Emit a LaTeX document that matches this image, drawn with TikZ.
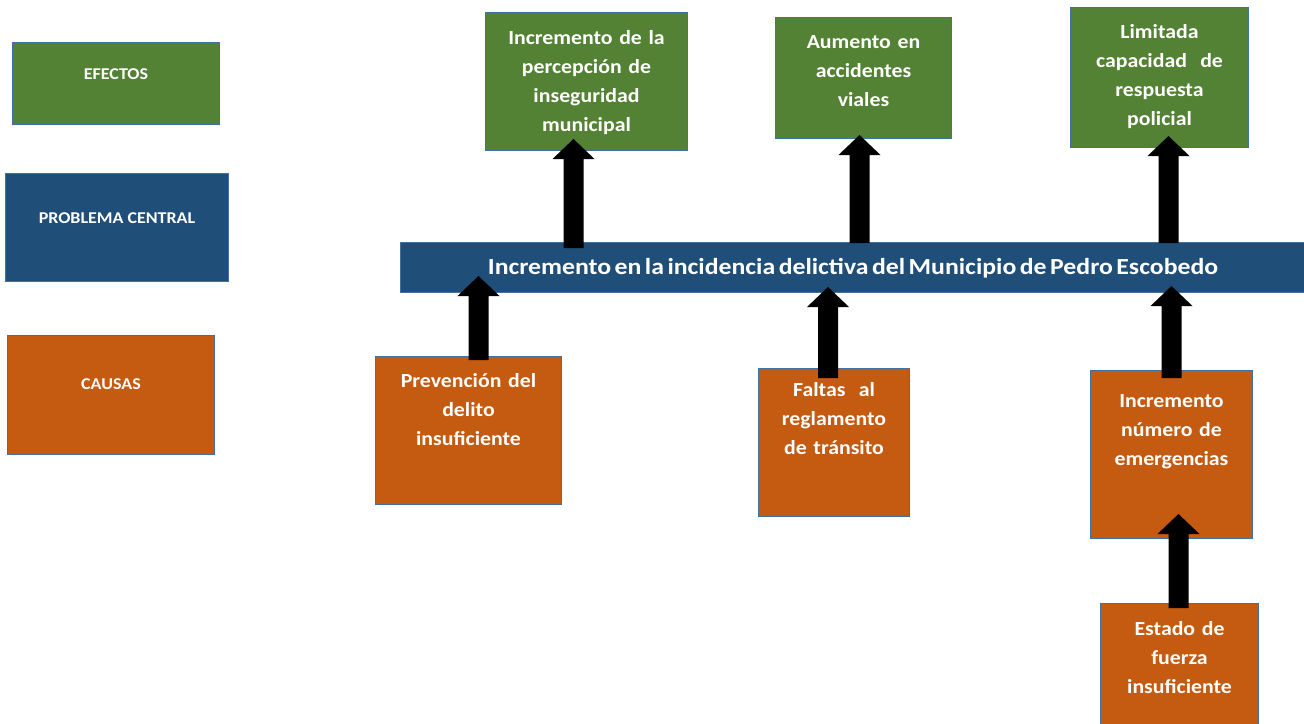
\documentclass[tikz,border=0pt]{standalone}
\usepackage{fontspec}
\setmainfont{Carlito}
\newfontfamily\wfont[FakeStretch=1.09]{Carlito}
\newfontfamily\bandfont[FakeStretch=1.12,WordSpace=0.6]{Carlito}
\usetikzlibrary{calc}
\definecolor{efg}{HTML}{548235}
\definecolor{pcb}{HTML}{1F4E79}
\definecolor{cao}{HTML}{C55A11}
\definecolor{bord}{HTML}{41719C}
\begin{document}
\begin{tikzpicture}[x=1pt,y=1pt,
  boxst/.style={draw=bord, line width=1pt, rectangle, inner sep=0pt, anchor=north west},
  efbox/.style={boxst, fill=efg},
  pcbox/.style={boxst, fill=pcb},
  cabox/.style={boxst, fill=cao},
  lbl/.style={text=white, font=\wfont\bfseries\fontsize{20}{29}\selectfont, align=center, inner sep=0pt, anchor=base},
  leg/.style={text=white, font=\wfont\bfseries\fontsize{16.5}{18}\selectfont, inner sep=0pt, anchor=base},
  blockarrow/.style={to path={
    let \p1=(\tikztostart), \p2=(\tikztotarget) in
    (\x1-10pt,\y1) -- (\x1-10pt,\y2-20pt) -- (\x1-21pt,\y2-20pt) -- (\x1,\y2)
    -- (\x1+21pt,\y2-20pt) -- (\x1+10pt,\y2-20pt) -- (\x1+10pt,\y1) -- cycle}},
  arr/.style={fill=black}
]
\useasboundingbox (0,0) rectangle (1304,-723);

% legend
\node[efbox, minimum width=207pt, minimum height=82pt] (lef) at (12,-42) {};
\node[leg] (lefT) at ($(lef.north)+(0,-37)$) {EFECTOS};
\node[pcbox, minimum width=223pt, minimum height=108pt] (lpc) at (5,-173) {};
\node[leg] (lpcT) at ($(lpc.north)+(0,-50)$) {PROBLEMA CENTRAL};
\node[cabox, minimum width=207pt, minimum height=119pt] (lca) at (7,-335) {};
\node[leg] (lcaT) at ($(lca.north)+(0,-54)$) {CAUSAS};

% central band
\node[pcbox, minimum width=920pt, minimum height=50pt] (band) at (400,-242) {};
\node[text=white, font=\bandfont\bfseries\fontsize{23}{27}\selectfont, inner sep=0pt, anchor=base] (bandT) at (853,-274)
  {Incremento en la incidencia delictiva del Municipio de Pedro Escobedo};

% effects
\node[efbox, minimum width=202pt, minimum height=138pt] (e1) at (485,-12) {};
\node[lbl, text width=200pt] (e1T) at ($(e1.north)+(0,-32)$) {Incremento de la\\percepción de\\inseguridad\\municipal};
\node[efbox, minimum width=176pt, minimum height=121pt] (e2) at (775,-17) {};
\node[lbl, text width=170pt] (e2T) at ($(e2.north)+(0,-31)$) {Aumento en\\accidentes\\viales};
\node[efbox, minimum width=178pt, minimum height=140pt] (e3) at (1070,-7) {};
\node[lbl, text width=176pt] (e3T) at ($(e3.north)+(0,-31)$) {Limitada\\capacidad~ de\\respuesta\\policial};

% causes
\node[cabox, minimum width=186pt, minimum height=148pt] (c1) at (375,-356) {};
\node[lbl, text width=184pt] (c1T) at ($(c1.north)+(0,-31)$) {Prevención del\\delito\\insuficiente};
\node[cabox, minimum width=151pt, minimum height=148pt] (c2) at (758,-368) {};
\node[lbl, text width=150pt] (c2T) at ($(c2.north)+(0,-28)$) {Faltas~ al\\reglamento\\de tránsito};
\node[cabox, minimum width=162pt, minimum height=168pt] (c3) at (1090,-370) {};
\node[lbl, text width=160pt] (c3T) at ($(c3.north)+(0,-37)$) {Incremento\\número de\\emergencias};
\node[cabox, minimum width=158pt, minimum height=130pt] (c4) at (1100,-603) {};
\node[lbl, text width=156pt] (c4T) at ($(c4.north)+(0,-32)$) {Estado de\\fuerza\\insuficiente};

% arrows
\fill[arr] ($(e1.south |- band.north)+(-13,-6)$) to[blockarrow] ($(e1.south)+(-13,12)$);
\fill[arr] ($(e2.south |- band.north)+(-4,-1)$) to[blockarrow] ($(e2.south)+(-4,4)$);
\fill[arr] ($(e3.south |- band.north)+(9,-1)$) to[blockarrow] ($(e3.south)+(9,12)$);
\fill[arr] ($(c1.north)+(10,-4)$) to[blockarrow] ($(c1.north |- band.south)+(10,17)$);
\fill[arr] ($(c2.north)+(-6,-10)$) to[blockarrow] ($(c2.north |- band.south)+(-6,6)$);
\fill[arr] ($(c3.north)+(0,-8)$) to[blockarrow] ($(c3.north |- band.south)+(0,7)$);
\fill[arr] ($(c4.north)+(-1,-5)$) to[blockarrow] ($(c3.south)+(-1,25)$);
\end{tikzpicture}
\end{document}
